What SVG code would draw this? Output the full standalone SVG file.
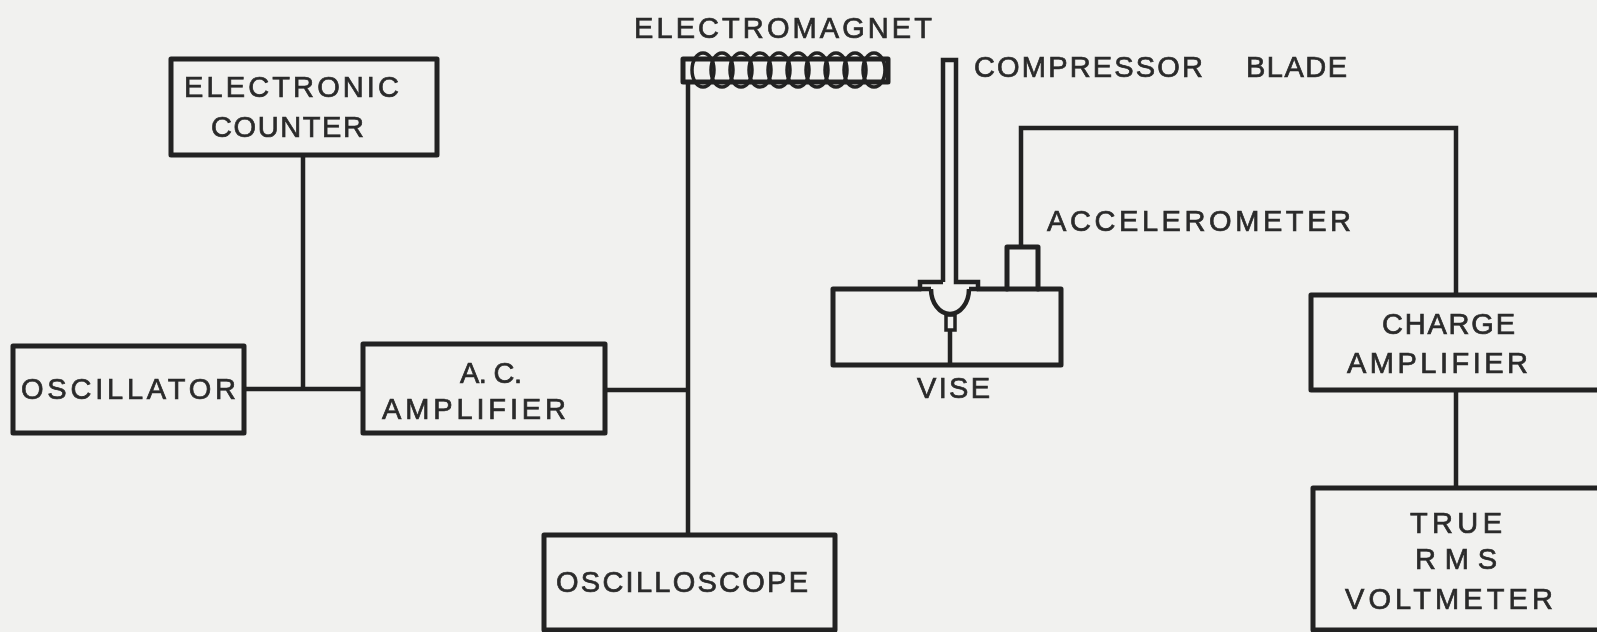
<svg xmlns="http://www.w3.org/2000/svg" width="1597" height="632" viewBox="0 0 1597 632">
<style>
.b{fill:none;stroke:#222;stroke-width:5;stroke-linejoin:round;stroke-linecap:round}
.w{fill:none;stroke:#222;stroke-width:4.5;stroke-linecap:butt;stroke-linejoin:miter}
.t{fill:none;stroke:#222;stroke-width:3.5}
text{font-family:"Liberation Sans",Arial,sans-serif;font-size:29px;fill:#2b2b2b;font-weight:400;stroke:#2b2b2b;stroke-width:.7}
</style>
<defs><filter id="s" x="-2%" y="-2%" width="104%" height="104%"><feGaussianBlur stdDeviation=".7"/></filter></defs>
<rect width="1597" height="632" fill="#f1f1ef"/>
<g filter="url(#s)">
<g id="connectors">
<path class="w" d="M303 155V389M244 389H363M605 390H688M688 82V535M1021 247V128H1456V295M1456 390V488"/>
</g>
<g id="electronic-counter"><rect class="b" x="171" y="59" width="266" height="96"/>
<text x="184" y="97" textLength="215">ELECTRONIC</text><text x="211" y="137" textLength="153">COUNTER</text></g>
<g id="oscillator"><rect class="b" x="13" y="346" width="231" height="87"/>
<text x="21" y="399" textLength="215">OSCILLATOR</text></g>
<g id="ac-amplifier"><rect class="b" x="363" y="344" width="242" height="89"/>
<text x="460" y="383" textLength="62">A. C.</text><text x="382" y="419" textLength="184">AMPLIFIER</text></g>
<g id="oscilloscope"><rect class="b" x="544" y="535" width="291" height="95"/>
<text x="556" y="592" textLength="252">OSCILLOSCOPE</text></g>
<g id="electromagnet">
<text x="634" y="38" textLength="298">ELECTROMAGNET</text>
<rect class="b" x="683" y="59" width="205" height="23"/>
<g class="t"><ellipse cx="703" cy="70" rx="11" ry="17"/><ellipse cx="722" cy="70" rx="11" ry="17"/><ellipse cx="741" cy="70" rx="11" ry="17"/><ellipse cx="760" cy="70" rx="11" ry="17"/><ellipse cx="779" cy="70" rx="11" ry="17"/><ellipse cx="798" cy="70" rx="11" ry="17"/><ellipse cx="817" cy="70" rx="11" ry="17"/><ellipse cx="836" cy="70" rx="11" ry="17"/><ellipse cx="855" cy="70" rx="11" ry="17"/><ellipse cx="874" cy="70" rx="11" ry="17"/></g>
</g>
<g id="compressor-blade">
<path class="w" d="M943 282V60H956V282H978V289M943 282H920V289M931 289H920M969 289H978"/>
<path class="w" d="M931 289A19 25 0 0 0 969 289"/>
<text y="77"><tspan x="974" textLength="229">COMPRESSOR</tspan> <tspan x="1246" textLength="101">BLADE</tspan></text>
</g>
<g id="vise">
<path class="b" d="M920 289H833V365H1061V289H978"/>
<path class="w" d="M950 330V365"/><rect class="t" x="946" y="315" width="9" height="15"/>
<text x="917" y="398" textLength="73">VISE</text>
</g>
<g id="accelerometer">
<path class="b" d="M1007 289V247H1038V289"/>
<text x="1047" y="231" textLength="304">ACCELEROMETER</text>
</g>
<g id="charge-amplifier"><path class="b" d="M1600 295H1311V390H1600"/>
<text x="1382" y="334" textLength="133">CHARGE</text><text x="1347" y="373" textLength="181">AMPLIFIER</text></g>
<g id="true-rms-voltmeter"><path class="b" d="M1600 488H1313V630H1600"/>
<text x="1410" y="533" textLength="92">TRUE</text><text x="1415" y="569" textLength="82">RMS</text><text x="1345" y="609" textLength="208">VOLTMETER</text></g>
</g>
</svg>
